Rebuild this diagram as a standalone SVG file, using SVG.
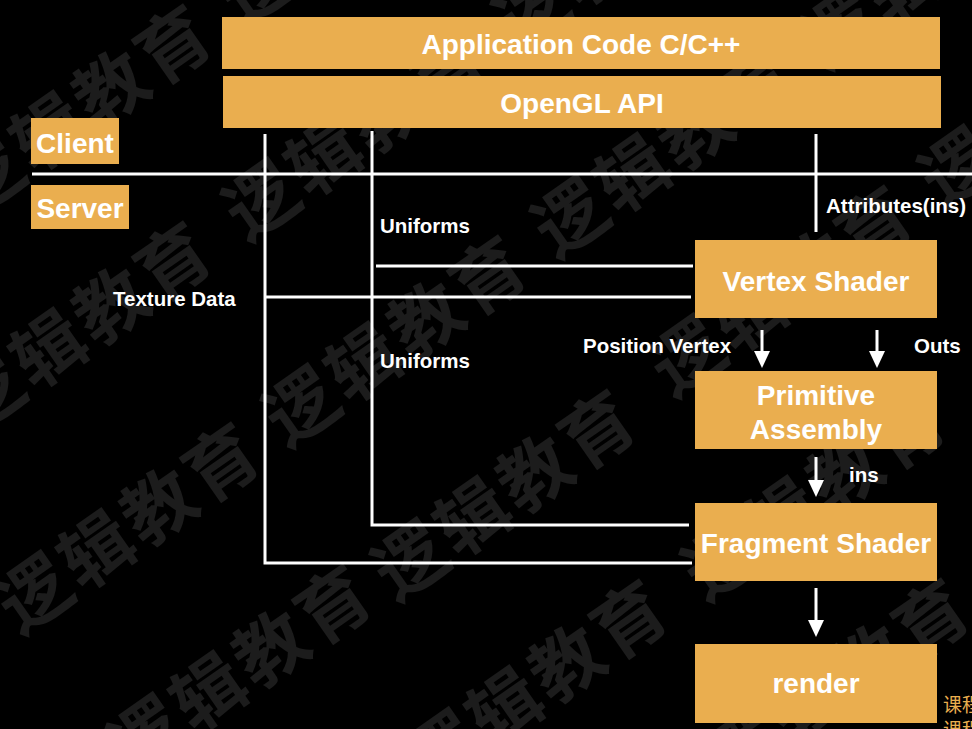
<svg xmlns="http://www.w3.org/2000/svg" width="972" height="729" viewBox="0 0 972 729">
<style>
.box{fill:#EAAE4F}
.t{font-family:"Liberation Sans",Arial,sans-serif;font-weight:bold;fill:#fff}
.big{font-size:28px}
.sm{font-size:20.5px}
.mid{text-anchor:middle}
.wire{stroke:#fff;stroke-width:3;fill:none}
.head{fill:#fff}
.wm{font-family:"Noto Sans CJK SC","Noto Sans CJK JP",sans-serif;font-size:72px;font-weight:bold;fill:#1c1c1c;letter-spacing:4px}
.note{font-family:"Noto Sans CJK SC","Noto Sans CJK JP",sans-serif;font-size:19px;fill:#EAAE4F}
</style>
<rect x="0" y="0" width="972" height="729" fill="#000"/>
<g id="watermark">
<text class="wm" transform="translate(-28,218) rotate(-35)">逻辑教育</text>
<text class="wm" transform="translate(242,28) rotate(-35)">逻辑教育</text>
<text class="wm" transform="translate(-28,435) rotate(-35)">逻辑教育</text>
<text class="wm" transform="translate(247,243) rotate(-35)">逻辑教育</text>
<text class="wm" transform="translate(517,53) rotate(-35)">逻辑教育</text>
<text class="wm" transform="translate(20,636) rotate(-35)">逻辑教育</text>
<text class="wm" transform="translate(287,449) rotate(-35)">逻辑教育</text>
<text class="wm" transform="translate(556,260) rotate(-35)">逻辑教育</text>
<text class="wm" transform="translate(826,71) rotate(-35)">逻辑教育</text>
<text class="wm" transform="translate(132,778) rotate(-35)">逻辑教育</text>
<text class="wm" transform="translate(396,603) rotate(-35)">逻辑教育</text>
<text class="wm" transform="translate(673,399) rotate(-35)">逻辑教育</text>
<text class="wm" transform="translate(943,210) rotate(-35)">逻辑教育</text>
<text class="wm" transform="translate(428,793) rotate(-35)">逻辑教育</text>
<text class="wm" transform="translate(706,603) rotate(-35)">逻辑教育</text>
<text class="wm" transform="translate(730,792) rotate(-35)">逻辑教育</text>
</g>
<g id="connectors">
<line class="wire" x1="32" y1="174" x2="972" y2="174"/>
<polyline class="wire" points="265,134 265,563 692,563"/>
<polyline class="wire" points="372,131 372,525 689,525"/>
<line class="wire" x1="376" y1="266" x2="693" y2="266"/>
<line class="wire" x1="265" y1="297" x2="691" y2="297"/>
<line class="wire" x1="816" y1="134" x2="816" y2="232"/>
<line class="wire" x1="762" y1="330" x2="762" y2="355"/>
<polygon class="head" points="754,351 770,351 762,368"/>
<line class="wire" x1="877" y1="330" x2="877" y2="355"/>
<polygon class="head" points="869,351 885,351 877,368"/>
<line class="wire" x1="816" y1="457" x2="816" y2="484"/>
<polygon class="head" points="808,480 824,480 816,497"/>
<line class="wire" x1="816" y1="588" x2="816" y2="625"/>
<polygon class="head" points="808,620 824,620 816,637"/>
</g>
<g id="labels">
<text class="t sm" x="380" y="233">Uniforms</text>
<text class="t sm" x="113" y="306">Texture Data</text>
<text class="t sm" x="380" y="368">Uniforms</text>
<text class="t sm" x="826" y="213">Attributes(ins)</text>
<text class="t sm" x="583" y="353">Position Vertex</text>
<text class="t sm" x="914" y="353">Outs</text>
<text class="t sm" x="849" y="482">ins</text>
</g>
<g id="app">
<rect class="box" x="222" y="17" width="718" height="52"/>
<text class="t big mid" x="581" y="54">Application Code C/C++</text>
</g>
<g id="opengl">
<rect class="box" x="223" y="76" width="718" height="52"/>
<text class="t big mid" x="582" y="113">OpenGL API</text>
</g>
<g id="client">
<rect class="box" x="31" y="118" width="88" height="46"/>
<text class="t big mid" x="75" y="153">Client</text>
</g>
<g id="server">
<rect class="box" x="31" y="185" width="98" height="44"/>
<text class="t big mid" x="80" y="218">Server</text>
</g>
<g id="vertex">
<rect class="box" x="695" y="240" width="242" height="78"/>
<text class="t big mid" x="816" y="291">Vertex Shader</text>
</g>
<g id="primitive">
<rect class="box" x="695" y="371" width="242" height="78"/>
<text class="t big mid" x="816" y="405">Primitive</text>
<text class="t big mid" x="816" y="439">Assembly</text>
</g>
<g id="fragment">
<rect class="box" x="695" y="503" width="242" height="78"/>
<text class="t big mid" x="816" y="553">Fragment Shader</text>
</g>
<g id="render">
<rect class="box" x="695" y="644" width="242" height="79"/>
<text class="t big mid" x="816" y="693">render</text>
</g>
<g id="note">
<text class="note" x="943" y="712">课程</text>
<text class="note" x="943" y="737">课程</text>
</g>
</svg>
